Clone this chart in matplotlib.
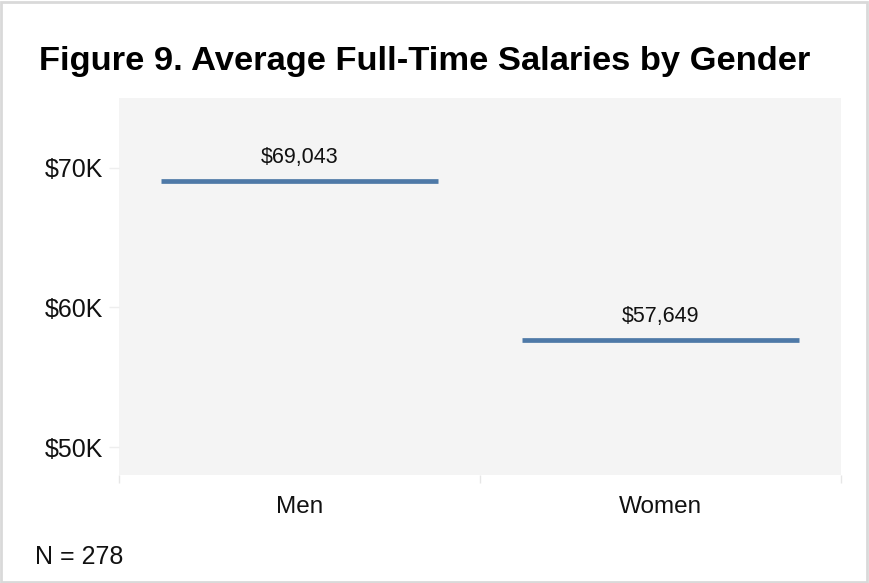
import matplotlib
matplotlib.use("Agg")
import matplotlib.pyplot as plt
from matplotlib.patches import Rectangle

plt.rcParams['font.family'] = ['Liberation Sans', 'DejaVu Sans']

# data
genders = ["Men", "Women"]
salaries = [69043, 57649]
y_ticks = [50000, 60000, 70000]
y_tick_labels = ["$50K", "$60K", "$70K"]
title = "Figure 9. Average Full-Time Salaries by Gender"
note = "N = 278"

W, H = 869, 583
fig = plt.figure(figsize=(W / 100, H / 100), dpi=100)

# axes placed in pixel terms
left, right, top, bottom = 119, 841, 98, 475
ax = fig.add_axes([left / W, 1 - bottom / H, (right - left) / W, (bottom - top) / H])
ax.set_facecolor("#f4f4f4")
for s in ax.spines.values():
    s.set_visible(False)

xs = list(range(len(genders)))
half = 0.385
ax.hlines(salaries, [x - half for x in xs], [x + half for x in xs],
          color="#4e79a7", linewidth=3.4)
for x, v in zip(xs, salaries):
    ax.annotate(f"${v:,}", (x, v), xytext=(0, 13), textcoords="offset points",
                ha="center", va="baseline", fontsize=15.5, color="#111111")

ax.set_xlim(-0.5, len(genders) - 0.5)
ax.set_ylim(48000, 75000)

ax.set_yticks(y_ticks)
ax.set_yticklabels(y_tick_labels)
ax.tick_params(axis="y", length=7, width=1, color="#eeeeee", pad=4.5,
               labelsize=18, labelcolor="#111111")

# category boundaries as ticks, labels at centres
ax.set_xticks([x - 0.5 for x in xs] + [xs[-1] + 0.5])
ax.set_xticklabels([])
ax.tick_params(axis="x", which="major", length=6, width=1, color="#e6e6e6")
ax.set_xticks(xs, minor=True)
ax.set_xticklabels(genders, minor=True)
ax.tick_params(axis="x", which="minor", length=0, pad=15, labelsize=17.5,
               labelcolor="#111111")

fig.text(39 / W, 1 - 70 / H, title, fontsize=24.8, fontweight="bold",
         ha="left", va="baseline", color="#000000")
fig.text(35 / W, 1 - 557 / H, note, fontsize=18, ha="left", va="center",
         color="#111111")

# light frame around the figure
fig.patches.append(Rectangle((0.001, 0.001), 0.997, 0.996, transform=fig.transFigure,
                             fill=False, edgecolor="#d9d9d9", linewidth=2))

fig.savefig("out.png", dpi=100)
